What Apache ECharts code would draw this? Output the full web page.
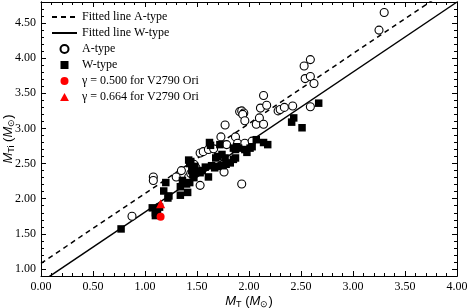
<!DOCTYPE html>
<html><head><meta charset="utf-8">
<script src="https://cdn.jsdelivr.net/npm/echarts@6/dist/echarts.min.js"></script>
<style>html,body{margin:0;padding:0;background:#fff}#c{width:470px;height:308px}</style>
</head><body><div id="c"></div>
<script>
// Fitted lines (endpoints)
const fitA = [[0, 1.08], [4, 5.06]];
const fitW = [[0, 0.813], [4, 4.80]];
// A-type systems (open circles)
const aType = [
 [0.875,1.75],[1.08,2.31],[1.08,2.26],[1.30,2.31],[1.35,2.40],[1.42,2.31],[1.47,2.49],[1.53,2.19],
 [1.53,2.65],[1.56,2.67],[1.61,2.70],[1.66,2.71],[1.73,2.88],[1.77,3.05],[1.76,2.38],[1.785,2.77],
 [1.87,2.88],[1.89,2.79],[1.91,3.24],[1.93,3.25],[1.95,3.22],[1.94,3.20],[1.96,3.11],[1.96,2.79],
 [1.93,2.21],[2.03,2.82],[2.07,3.06],[2.10,3.15],[2.11,3.29],[2.14,3.47],[2.14,3.06],[2.17,3.33],
 [2.28,3.25],[2.30,3.27],[2.34,3.30],[2.42,3.32],[2.59,3.31],[2.53,3.89],[2.59,3.98],[2.54,3.71],
 [2.59,3.74],[2.625,3.64],[3.25,4.40],[3.30,4.65],[1.49,2.44],[1.44,2.36]
];
// W-type systems (filled squares)
const wType = [
 [0.77,1.57],[1.07,1.87],[1.10,1.76],[1.12,1.84],[1.10,1.80],[1.14,1.88],[1.18,2.11],[1.20,2.23],
 [1.22,2.01],[1.23,2.04],[1.34,2.17],[1.34,2.05],[1.41,2.09],[1.42,2.55],[1.43,2.50],[1.44,2.53],
 [1.43,2.23],[1.46,2.34],[1.48,2.46],[1.50,2.39],[1.53,2.37],[1.47,2.30],[1.61,2.31],[1.62,2.80],
 [1.63,2.76],[1.67,2.44],[1.70,2.46],[1.72,2.77],[1.70,2.60],[1.74,2.63],[1.77,2.58],[1.78,2.49],
 [1.75,2.47],[1.82,2.51],[1.85,2.56],[1.87,2.70],[1.90,2.72],[1.85,2.72],[1.88,2.74],[1.98,2.66],
 [2.03,2.74],[2.07,2.84],[2.14,2.80],[2.18,2.77],[2.01,2.72],[1.96,2.70],[1.87,2.58],[1.55,2.40],
 [1.58,2.45],[1.64,2.47],[1.68,2.58],[2.41,3.09],[2.43,3.15],[2.51,3.01],[2.67,3.36],[1.45,2.40],
 [1.40,2.21],[1.36,2.26]
];
// V2790 Ori
const gamma500 = [[1.15, 1.745]];
const gamma664 = [[1.15, 1.93]];
// ticks
const xMin = 0, xMax = 4, yMin = 0.9, yMax = 4.8;
const yMajor = [1.0, 1.5, 2.0, 2.5, 3.0, 3.5, 4.0, 4.5];
const yMinor = [1.1,1.2,1.3,1.4,1.6,1.7,1.8,1.9,2.1,2.2,2.3,2.4,2.6,2.7,2.8,2.9,3.1,3.2,3.3,3.4,3.6,3.7,3.8,3.9,4.1,4.2,4.3,4.4,4.6,4.7];

const serif = 'Liberation Serif';
const sans = 'Liberation Sans';
const axisLine = {show: true, lineStyle: {color: '#000', width: 1}};
const nameRich = {
  i: {fontFamily: sans, fontStyle: 'italic', fontSize: 13, color: '#000'},
  n: {fontFamily: sans, fontSize: 13, color: '#000'},
  s: {fontFamily: sans, fontSize: 9, color: '#000', padding: [7, 0, 0, 0]}
};
const yAx = (extra) => Object.assign({
  type: 'value', min: yMin, max: yMax, splitLine: {show: false},
  axisLine: axisLine, axisLabel: {show: false}
}, extra);

const sq = 'path://M0,0L10,0L10,10L0,10Z';
const tri = 'path://M5,0L10,9L0,9Z';
const hide = {opacity: 0};

const chart = echarts.init(document.getElementById('c'), null, {renderer: 'canvas'});
chart.setOption({
  animation: false,
  backgroundColor: '#fff',
  grid: {left: 41, right: 13, top: 2, bottom: 32, containLabel: false, outerBoundsMode: 'none'},
  legend: {
    orient: 'vertical', left: 46, top: 6, itemWidth: 25, itemHeight: 8, itemGap: 4,
    textStyle: {fontFamily: serif, fontSize: 12, color: '#000'},
    data: [
      {name: 'Fitted line A-type', itemStyle: hide}, {name: 'Fitted line W-type', itemStyle: hide},
      {name: 'A-type', icon: 'circle'}, {name: 'W-type', icon: sq},
      {name: 'γ = 0.500 for V2790 Ori', icon: 'circle'}, {name: 'γ = 0.664 for V2790 Ori', icon: tri}
    ]
  },
  xAxis: [
    {type: 'value', min: xMin, max: xMax, interval: 0.5, position: 'bottom',
     axisLine: axisLine, splitLine: {show: false},
     axisTick: {inside: true, length: 5, lineStyle: {color: '#000'}},
     minorTick: {show: true, splitNumber: 5, length: 3, lineStyle: {color: '#000'}},
     axisLabel: {fontFamily: serif, fontSize: 12, color: '#000', margin: 5, formatter: v => v.toFixed(2)},
     name: '{i|M}{s|T}{n| (}{i|M}{s|⊙}{n|)}', nameLocation: 'middle', nameGap: 17, nameMoveOverlap: false,
     nameTextStyle: {rich: nameRich}},
    {type: 'value', min: xMin, max: xMax, interval: 0.5, position: 'top',
     axisLine: axisLine, splitLine: {show: false}, axisLabel: {show: false},
     axisTick: {inside: true, length: 5, lineStyle: {color: '#000'}},
     minorTick: {show: true, splitNumber: 5, length: 3, lineStyle: {color: '#000'}}}
  ],
  yAxis: [
    yAx({position: 'left',
      axisTick: {inside: true, length: 5, customValues: yMajor, lineStyle: {color: '#000'}},
      axisLabel: {show: true, customValues: yMajor, fontFamily: serif, fontSize: 12, color: '#000', margin: 5,
                  formatter: v => Number(v).toFixed(2)},
      name: '{i|M}{s|Ti}{n| (}{i|M}{s|⊙}{n|)}', nameLocation: 'middle', nameGap: 25, nameRotate: 90,
      nameMoveOverlap: false, nameTextStyle: {rich: nameRich}}),
    yAx({position: 'left', axisTick: {inside: true, length: 3, customValues: yMinor, lineStyle: {color: '#000'}}}),
    yAx({position: 'right', axisTick: {inside: true, length: 5, customValues: yMajor, lineStyle: {color: '#000'}}}),
    yAx({position: 'right', axisTick: {inside: true, length: 3, customValues: yMinor, lineStyle: {color: '#000'}}})
  ],
  series: [
    {name: 'Fitted line A-type', type: 'line', data: fitA, symbol: 'none', clip: true,
     lineStyle: {color: '#000', width: 1.5, type: [5, 4]}, itemStyle: {color: '#000'}, z: 3},
    {name: 'Fitted line W-type', type: 'line', data: fitW, symbol: 'none', clip: true,
     lineStyle: {color: '#000', width: 1.5, type: 'solid'}, itemStyle: {color: '#000'}, z: 3},
    {name: 'A-type', type: 'scatter', data: aType, symbol: 'circle', symbolSize: 8,
     itemStyle: {color: '#fff', borderColor: '#000', borderWidth: 1.1, opacity: 1}, z: 4},
    {name: 'W-type', type: 'scatter', data: wType, symbol: 'rect', symbolSize: 7.5,
     itemStyle: {color: '#000', opacity: 1}, z: 5},
    {name: 'γ = 0.500 for V2790 Ori', type: 'scatter', data: gamma500, symbol: 'circle', symbolSize: 8,
     itemStyle: {color: '#ff0000', opacity: 1}, z: 6},
    {name: 'γ = 0.664 for V2790 Ori', type: 'scatter', data: gamma664, symbol: 'triangle', symbolSize: 9,
     itemStyle: {color: '#ff0000', opacity: 1}, z: 6}
  ]
});
</script></body></html>
